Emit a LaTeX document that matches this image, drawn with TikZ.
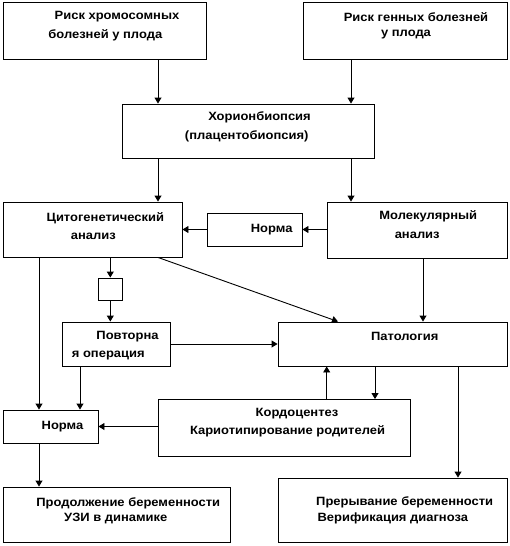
\documentclass[tikz,border=0pt]{standalone}
\usepackage{fontspec}
\setmainfont{Liberation Sans}[FakeStretch=1.08]
\usetikzlibrary{arrows.meta}
\begin{document}
\begin{tikzpicture}[x=1pt,y=-1pt,
  box/.style={draw,line width=0.9pt,inner sep=0pt,rectangle},
  lbl/.style={inner sep=0pt,font=\fontsize{12}{14}\selectfont\bfseries},
  arr/.style={line width=0.9pt,-{Triangle[length=6pt,width=7pt]}},
  ln/.style={line width=0.9pt}]
\useasboundingbox (0,0) rectangle (510,546);
% boxes
\node[box,minimum width=203pt,minimum height=57pt] (r1) at (104.5,30.5) {};
\node[box,minimum width=204pt,minimum height=57pt] (r2) at (405,30.5) {};
\node[box,minimum width=252pt,minimum height=54pt] (hor) at (248,131) {};
\node[box,minimum width=179pt,minimum height=55pt] (cyto) at (92.5,229.5) {};
\node[box,minimum width=95pt,minimum height=33pt] (n1) at (254.5,229.5) {};
\node[box,minimum width=180pt,minimum height=56pt] (mol) at (417,230) {};
\node[box,minimum width=24pt,minimum height=22pt] (sm) at (110.3,289) {};
\node[box,minimum width=108pt,minimum height=44pt] (rep) at (116,344) {};
\node[box,minimum width=229pt,minimum height=44pt] (pat) at (392.5,344) {};
\node[box,minimum width=95pt,minimum height=33pt] (n2) at (50.5,426.5) {};
\node[box,minimum width=252pt,minimum height=57pt] (kord) at (284,428) {};
\node[box,minimum width=227pt,minimum height=55pt] (prod) at (116.5,514.5) {};
\node[box,minimum width=229pt,minimum height=64pt] (prer) at (392.5,510) {};
% texts
\node[lbl] (t1a) at (117,16.7) {Риск хромосомных};
\node[lbl] (t1b) at (105.3,35) {болезней у плода};
\node[lbl] (t2a) at (416,16.7) {Риск генных болезней};
\node[lbl] (t2b) at (406,35) {у плода};
\node[lbl] (t3a) at (259.5,117) {Хорионбиопсия};
\node[lbl] (t3b) at (246.7,136) {(плацентобиопсия)};
\node[lbl] (t4a) at (105.3,218) {Цитогенетический};
\node[lbl] (t4b) at (93.3,236) {анализ};
\node[lbl] (t5) at (271.7,229.3) {Норма};
\node[lbl] (t6a) at (428.3,216.7) {Молекулярный};
\node[lbl] (t6b) at (417.2,235.7) {анализ};
\node[lbl] (t7) at (404.7,336.7) {Патология};
\node[lbl] (t8a) at (127.5,336.7) {Повторна};
\node[lbl] (t8b) at (108.3,355.7) {я операция};
\node[lbl] (t9) at (62.5,426.7) {Норма};
\node[lbl] (t10a) at (297,413.3) {Кордоцентез};
\node[lbl] (t10b) at (287.5,431.7) {Кариотипирование родителей};
\node[lbl] (t11a) at (128.3,503.3) {Продолжение беременности};
\node[lbl] (t11b) at (115.8,518.3) {УЗИ в динамике};
\node[lbl] (t12a) at (404.7,502.7) {Прерывание беременности};
\node[lbl] (t12b) at (392.8,518.3) {Верификация диагноза};
% x positions
\coordinate (x158) at (158,0);
\coordinate (x351) at (351,0);
\coordinate (x110) at (110.3,0);
\coordinate (x39) at (39,0);
\coordinate (x80) at (80,0);
\coordinate (x423) at (423,0);
\coordinate (x327) at (326.7,0);
\coordinate (x375) at (375,0);
\coordinate (x458) at (458,0);
\coordinate (x338) at (338,0);
% connectors
\draw[arr] (r1.south -| x158) -- (hor.north -| x158);
\draw[arr] (r2.south -| x351) -- (hor.north -| x351);
\draw[arr] (hor.south -| x158) -- (cyto.north -| x158);
\draw[arr] (hor.south -| x351) -- (mol.north -| x351);
\draw[arr] (mol.west |- n1) -- (n1.east);
\draw[arr] (n1.west) -- (cyto.east |- n1);
\draw[arr] (cyto.south -| x110) -- (sm.north);
\draw[arr] (sm.south) -- (rep.north -| x110);
\draw[arr] (cyto.south -| x158) -- (pat.north -| x338);
\draw[arr] (mol.south -| x423) -- (pat.north -| x423);
\draw[arr] (rep.east) -- (pat.west);
\draw[arr] (cyto.south -| x39) -- (n2.north -| x39);
\draw[arr] (rep.south -| x80) -- (n2.north -| x80);
\draw[arr] (kord.west |- n2) -- (n2.east);
\draw[arr] (kord.north -| x327) -- (pat.south -| x327);
\draw[arr] (pat.south -| x375) -- (kord.north -| x375);
\draw[arr] (pat.south -| x458) -- (prer.north -| x458);
\draw[arr] (n2.south -| x39) -- (prod.north -| x39);
\end{tikzpicture}
\end{document}
